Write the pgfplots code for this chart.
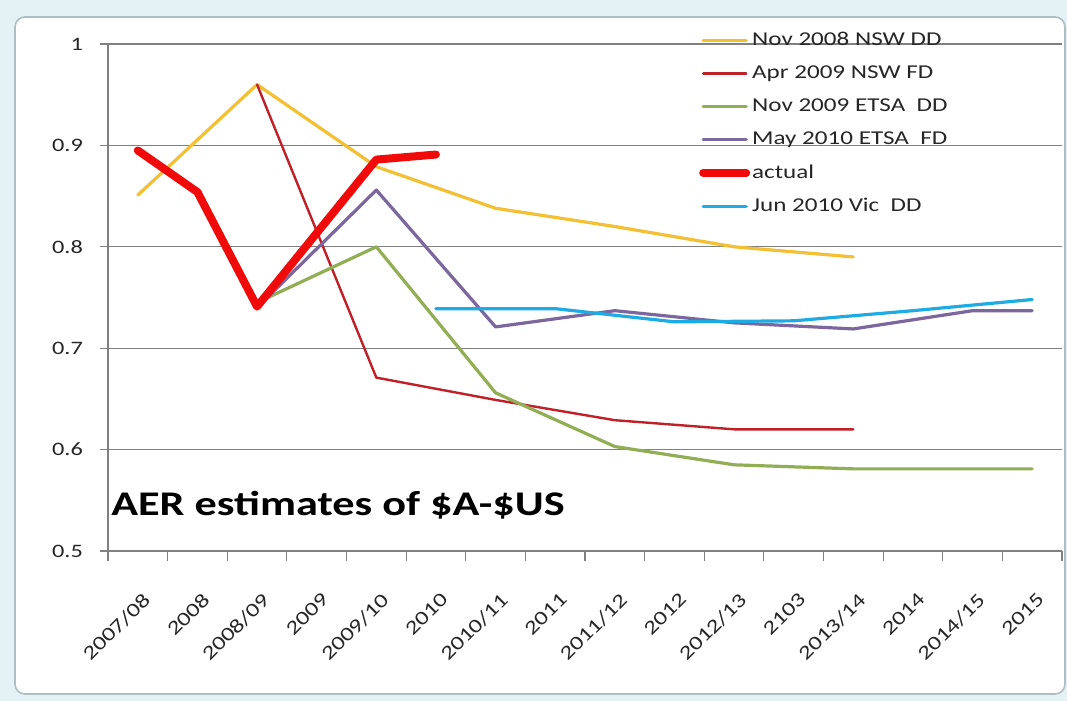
\documentclass[border=0pt]{standalone}
\usepackage{fontspec}
\setmainfont{Carlito}[FakeStretch=1.28]
\usepackage{pgfplots}
\pgfplotsset{compat=1.18}
\definecolor{cyel}{RGB}{242,192,50}
\definecolor{cdred}{RGB}{192,32,40}
\definecolor{cgreen}{RGB}{146,174,84}
\definecolor{cpurple}{RGB}{124,102,158}
\definecolor{cactual}{RGB}{240,10,10}
\definecolor{ccyan}{RGB}{30,170,226}
\definecolor{bgblue}{RGB}{228,242,246}
\definecolor{framegray}{RGB}{175,190,195}
\definecolor{gridgray}{RGB}{128,128,128}
\begin{document}
\begin{tikzpicture}
\useasboundingbox (-54pt,-75pt) rectangle (479.5pt,275.5pt);
\fill[bgblue] (-54pt,-75pt) rectangle (479.5pt,275.5pt);
\draw[framegray, fill=white, rounded corners=5pt, line width=0.8pt] (-46.5pt,-71.5pt) rectangle (478.5pt,267pt);
\begin{axis}[
  at={(0pt,0pt)}, anchor=south west,
  scale only axis, width=477pt, height=253.5pt,
  xmin=-0.5, xmax=15.5, ymin=0.5, ymax=1,
  axis x line*=bottom, axis y line*=left,
  axis line style={gridgray, line width=0.6pt},
  xtick={0,...,15},
  xticklabels={2007/08,2008,2008/09,2009,2009/10,2010,2010/11,2011,2011/12,2012,2012/13,2103,2013/14,2014,2014/15,2015},
  minor xtick={-0.5,0.5,...,15.5},
  ytick={0.5,0.6,0.7,0.8,0.9,1},
  yticklabels={0.5,0.6,0.7,0.8,0.9,1},
  tick align=outside,
  major tick length=4pt, minor tick length=5pt,
  major x tick style={draw=none},
  minor x tick style={gridgray, line width=0.6pt},
  major y tick style={gridgray, line width=0.6pt},
  ymajorgrids, grid style={gridgray, line width=0.6pt},
  tick label style={font=\fontsize{9.5}{11}\selectfont, text=black!85},
  /pgf/number format/assume math mode=true,
  xticklabel style={xshift=2pt, yshift=-16pt, rotate=45, anchor=north east, inner sep=0pt, font=\fontsize{9.8}{11}\selectfont},
  yticklabel style={xshift=-5pt},
  legend style={at={(0.613,1.04)}, anchor=north west, draw=none, fill=none,
    font=\fontsize{9.8}{11}\selectfont, row sep=4.6pt, text=black!85,
    nodes={inner xsep=1pt}},
  legend cell align=left,
  legend image code/.code={\draw[#1] (0pt,0pt) -- (21.5pt,0pt);},
  every axis plot/.append style={line join=round, line cap=round},
  clip=false,
]
\addplot[cyel, line width=1.6pt] coordinates {(0,0.851) (2,0.960) (4,0.879) (6,0.838) (8,0.820) (10,0.800) (12,0.790)};
\addlegendentry{Nov 2008 NSW DD}
\addplot[cdred, line width=1.2pt] coordinates {(2,0.960) (4,0.671) (6,0.649) (8,0.629) (10,0.620) (12,0.620)};
\addlegendentry{Apr 2009 NSW FD}
\addplot[cgreen, line width=1.6pt] coordinates {(2,0.745) (4,0.800) (6,0.656) (8,0.603) (10,0.585) (12,0.581) (14,0.581) (15,0.581)};
\addlegendentry{Nov 2009 ETSA\ \ DD}
\addplot[cpurple, line width=1.6pt] coordinates {(2,0.740) (4,0.856) (6,0.721) (8,0.737) (10,0.725) (12,0.719) (14,0.737) (15,0.737)};
\addlegendentry{May 2010 ETSA\ \ FD}
\addplot[cactual, line width=4pt] coordinates {(0,0.895) (1,0.854) (2,0.741) (4,0.886) (5,0.891)};
\addlegendentry{actual}
\addplot[ccyan, line width=1.6pt] coordinates {(5,0.739) (7,0.739) (9,0.726) (11,0.727) (13,0.737) (15,0.748)};
\addlegendentry{Jun 2010 Vic\ \ DD}
\node[anchor=base west, inner sep=0pt, font=\fontsize{17.3}{20}\selectfont\bfseries, text=black] at (rel axis cs:0.003,0.071) {AER estimates of \$A-\$US};
\end{axis}
\end{tikzpicture}
\end{document}
